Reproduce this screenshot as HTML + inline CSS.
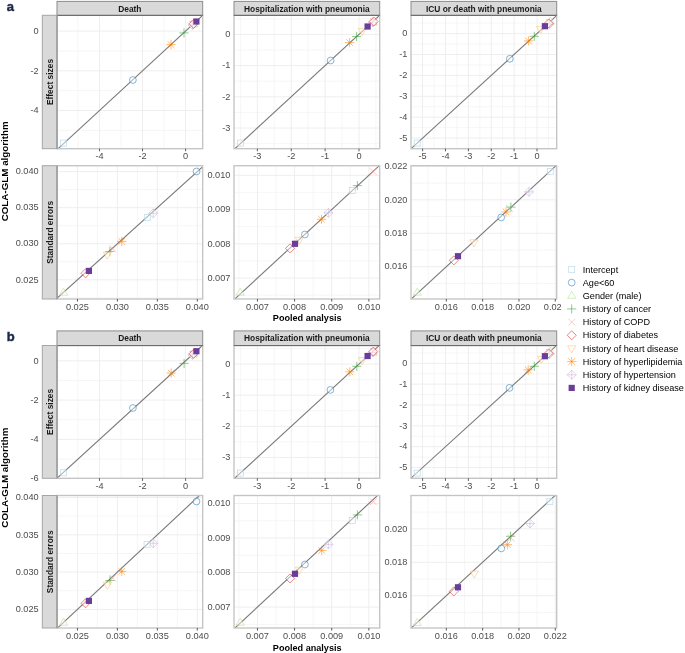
<!DOCTYPE html><html><head><meta charset="utf-8"><style>html,body{margin:0;padding:0;background:#fff}svg{display:block;will-change:transform}</style></head><body><svg width="685" height="653" viewBox="0 0 685 653">
<style>.t{font:9.2px "Liberation Sans",sans-serif;fill:#4d4d4d}.s{font:bold 8.4px "Liberation Sans",sans-serif;fill:#1a1a1a}.ti{font:bold 9.1px "Liberation Sans",sans-serif;fill:#000}.l{font:9.1px "Liberation Sans",sans-serif;fill:#000}</style>
<rect width="685" height="653" fill="#fff"/>
<clipPath id="cpa11"><rect x="57.0" y="15.3" width="145.70" height="133.40"/></clipPath>
<rect x="57.0" y="15.3" width="145.70" height="133.40" fill="#fff"/>
<path d="M77.95,15.3V148.7M121.01,15.3V148.7M164.07,15.3V148.7M57.0,130.35H202.70M57.0,90.65H202.70M57.0,50.95H202.70" stroke="#f4f4f4" stroke-width="0.8" fill="none"/>
<path d="M99.48,15.3V148.7M142.54,15.3V148.7M185.60,15.3V148.7M57.0,110.50H202.70M57.0,70.80H202.70M57.0,31.10H202.70" stroke="#eeeeee" stroke-width="1" fill="none"/>
<g clip-path="url(#cpa11)"><path d="M-1271.40,1374.41L1642.60,-1312.21" stroke="#787878" stroke-width="1.1"/>
<rect x="60.50" y="140.10" width="6.00" height="6.00" stroke="#A6CEE3" stroke-width="0.75" fill="#fff" fill-opacity="0.45" stroke-opacity="0.72"/>
<circle cx="132.90" cy="80.00" r="3.40" stroke="#1F78B4" stroke-width="0.75" fill="#fff" fill-opacity="0.45" stroke-opacity="0.72"/>
<path d="M166.40,44.60H175.60M171.00,40.00V49.20M167.70,41.30L174.30,47.90M167.70,47.90L174.30,41.30" stroke="#FF7F00" stroke-width="0.75" fill="#fff" fill-opacity="0.45" stroke-opacity="0.72"/>
<path d="M179.40,32.90H188.60M184.00,28.30V37.50" stroke="#33A02C" stroke-width="0.75" fill="#fff" fill-opacity="0.45" stroke-opacity="0.72"/>
<path d="M193.80,28.30L197.90,21.20L189.70,21.20Z" stroke="#FDBF6F" stroke-width="0.75" fill="#fff" fill-opacity="0.45" stroke-opacity="0.72"/>
<path d="M194.00,19.50L198.10,26.60L189.90,26.60Z" stroke="#B2DF8A" stroke-width="0.75" fill="#fff" fill-opacity="0.45" stroke-opacity="0.72"/>
<path d="M189.80,21.10L196.60,27.90M189.80,27.90L196.60,21.10" stroke="#FB9A99" stroke-width="0.75" fill="#fff" fill-opacity="0.45" stroke-opacity="0.72"/>
<path d="M192.50,20.50L197.00,25.00L192.50,29.50L188.00,25.00ZM188.00,25.00H197.00M192.50,20.50V29.50" stroke="#CAB2D6" stroke-width="0.75" fill="#fff" fill-opacity="0.45" stroke-opacity="0.72"/>
<path d="M193.50,19.30L198.00,23.80L193.50,28.30L189.00,23.80Z" stroke="#E31A1C" stroke-width="0.75" fill="#fff" fill-opacity="0.45" stroke-opacity="0.72"/>
<rect x="193.30" y="18.40" width="6.20" height="6.20" fill="#6A3D9A"/>
</g>
<rect x="57.0" y="15.3" width="145.70" height="133.40" fill="none" stroke="#c4c4c4" stroke-width="1.35"/>
<path d="M99.48,148.7v2.6" stroke="#333" stroke-width="0.8"/>
<text x="99.48" y="159.30" text-anchor="middle" class="t">-4</text>
<path d="M142.54,148.7v2.6" stroke="#333" stroke-width="0.8"/>
<text x="142.54" y="159.30" text-anchor="middle" class="t">-2</text>
<path d="M185.60,148.7v2.6" stroke="#333" stroke-width="0.8"/>
<text x="185.60" y="159.30" text-anchor="middle" class="t">0</text>
<text x="38.70" y="113.20" text-anchor="end" class="t">-4</text>
<text x="38.70" y="73.50" text-anchor="end" class="t">-2</text>
<text x="38.70" y="33.80" text-anchor="end" class="t">0</text>
<clipPath id="cpa12"><rect x="234.0" y="15.3" width="145.70" height="133.40"/></clipPath>
<rect x="234.0" y="15.3" width="145.70" height="133.40" fill="#fff"/>
<path d="M240.42,15.3V148.7M274.30,15.3V148.7M308.18,15.3V148.7M342.06,15.3V148.7M375.94,15.3V148.7M234.0,143.60H379.70M234.0,112.40H379.70M234.0,81.20H379.70M234.0,50.00H379.70M234.0,18.80H379.70" stroke="#f4f4f4" stroke-width="0.8" fill="none"/>
<path d="M257.36,15.3V148.7M291.24,15.3V148.7M325.12,15.3V148.7M359.00,15.3V148.7M234.0,128.00H379.70M234.0,96.80H379.70M234.0,65.60H379.70M234.0,34.40H379.70" stroke="#eeeeee" stroke-width="1" fill="none"/>
<g clip-path="url(#cpa12)"><path d="M-1098.00,1376.15L1816.00,-1307.35" stroke="#787878" stroke-width="1.1"/>
<rect x="237.40" y="140.10" width="6.00" height="6.00" stroke="#A6CEE3" stroke-width="0.75" fill="#fff" fill-opacity="0.45" stroke-opacity="0.72"/>
<circle cx="330.60" cy="60.50" r="3.40" stroke="#1F78B4" stroke-width="0.75" fill="#fff" fill-opacity="0.45" stroke-opacity="0.72"/>
<path d="M345.00,42.60H354.20M349.60,38.00V47.20M346.30,39.30L352.90,45.90M346.30,45.90L352.90,39.30" stroke="#FF7F00" stroke-width="0.75" fill="#fff" fill-opacity="0.45" stroke-opacity="0.72"/>
<path d="M352.00,36.50H361.20M356.60,31.90V41.10" stroke="#33A02C" stroke-width="0.75" fill="#fff" fill-opacity="0.45" stroke-opacity="0.72"/>
<path d="M362.20,35.50L366.30,28.40L358.10,28.40Z" stroke="#FDBF6F" stroke-width="0.75" fill="#fff" fill-opacity="0.45" stroke-opacity="0.72"/>
<path d="M373.00,18.00L377.10,25.10L368.90,25.10Z" stroke="#B2DF8A" stroke-width="0.75" fill="#fff" fill-opacity="0.45" stroke-opacity="0.72"/>
<path d="M370.10,18.10L376.90,24.90M370.10,24.90L376.90,18.10" stroke="#FB9A99" stroke-width="0.75" fill="#fff" fill-opacity="0.45" stroke-opacity="0.72"/>
<path d="M372.80,18.00L377.30,22.50L372.80,27.00L368.30,22.50ZM368.30,22.50H377.30M372.80,18.00V27.00" stroke="#CAB2D6" stroke-width="0.75" fill="#fff" fill-opacity="0.45" stroke-opacity="0.72"/>
<path d="M373.70,17.00L378.20,21.50L373.70,26.00L369.20,21.50Z" stroke="#E31A1C" stroke-width="0.75" fill="#fff" fill-opacity="0.45" stroke-opacity="0.72"/>
<rect x="364.50" y="23.40" width="6.20" height="6.20" fill="#6A3D9A"/>
</g>
<rect x="234.0" y="15.3" width="145.70" height="133.40" fill="none" stroke="#c4c4c4" stroke-width="1.35"/>
<path d="M257.36,148.7v2.6" stroke="#333" stroke-width="0.8"/>
<text x="257.36" y="159.30" text-anchor="middle" class="t">-3</text>
<path d="M291.24,148.7v2.6" stroke="#333" stroke-width="0.8"/>
<text x="291.24" y="159.30" text-anchor="middle" class="t">-2</text>
<path d="M325.12,148.7v2.6" stroke="#333" stroke-width="0.8"/>
<text x="325.12" y="159.30" text-anchor="middle" class="t">-1</text>
<path d="M359.00,148.7v2.6" stroke="#333" stroke-width="0.8"/>
<text x="359.00" y="159.30" text-anchor="middle" class="t">0</text>
<text x="230.40" y="130.70" text-anchor="end" class="t">-3</text>
<text x="230.40" y="99.50" text-anchor="end" class="t">-2</text>
<text x="230.40" y="68.30" text-anchor="end" class="t">-1</text>
<text x="230.40" y="37.10" text-anchor="end" class="t">0</text>
<clipPath id="cpa13"><rect x="411.0" y="15.3" width="145.70" height="133.40"/></clipPath>
<rect x="411.0" y="15.3" width="145.70" height="133.40" fill="#fff"/>
<path d="M411.16,15.3V148.7M434.04,15.3V148.7M456.92,15.3V148.7M479.80,15.3V148.7M502.68,15.3V148.7M525.56,15.3V148.7M548.44,15.3V148.7M411.0,148.55H556.70M411.0,127.65H556.70M411.0,106.75H556.70M411.0,85.85H556.70M411.0,64.95H556.70M411.0,44.05H556.70M411.0,23.15H556.70" stroke="#f4f4f4" stroke-width="0.8" fill="none"/>
<path d="M422.60,15.3V148.7M445.48,15.3V148.7M468.36,15.3V148.7M491.24,15.3V148.7M514.12,15.3V148.7M537.00,15.3V148.7M411.0,138.10H556.70M411.0,117.20H556.70M411.0,96.30H556.70M411.0,75.40H556.70M411.0,54.50H556.70M411.0,33.60H556.70" stroke="#eeeeee" stroke-width="1" fill="none"/>
<g clip-path="url(#cpa13)"><path d="M-920.00,1364.51L1994.00,-1297.31" stroke="#787878" stroke-width="1.1"/>
<rect x="414.20" y="140.10" width="6.00" height="6.00" stroke="#A6CEE3" stroke-width="0.75" fill="#fff" fill-opacity="0.45" stroke-opacity="0.72"/>
<circle cx="509.80" cy="58.80" r="3.40" stroke="#1F78B4" stroke-width="0.75" fill="#fff" fill-opacity="0.45" stroke-opacity="0.72"/>
<path d="M524.00,40.90H533.20M528.60,36.30V45.50M525.30,37.60L531.90,44.20M525.30,44.20L531.90,37.60" stroke="#FF7F00" stroke-width="0.75" fill="#fff" fill-opacity="0.45" stroke-opacity="0.72"/>
<path d="M529.70,36.30H538.90M534.30,31.70V40.90" stroke="#33A02C" stroke-width="0.75" fill="#fff" fill-opacity="0.45" stroke-opacity="0.72"/>
<path d="M540.70,33.50L544.80,26.40L536.60,26.40Z" stroke="#FDBF6F" stroke-width="0.75" fill="#fff" fill-opacity="0.45" stroke-opacity="0.72"/>
<path d="M550.30,17.00L554.40,24.10L546.20,24.10Z" stroke="#B2DF8A" stroke-width="0.75" fill="#fff" fill-opacity="0.45" stroke-opacity="0.72"/>
<path d="M546.10,19.10L552.90,25.90M546.10,25.90L552.90,19.10" stroke="#FB9A99" stroke-width="0.75" fill="#fff" fill-opacity="0.45" stroke-opacity="0.72"/>
<path d="M549.30,19.60L553.80,24.10L549.30,28.60L544.80,24.10ZM544.80,24.10H553.80M549.30,19.60V28.60" stroke="#CAB2D6" stroke-width="0.75" fill="#fff" fill-opacity="0.45" stroke-opacity="0.72"/>
<path d="M548.60,18.90L553.10,23.40L548.60,27.90L544.10,23.40Z" stroke="#E31A1C" stroke-width="0.75" fill="#fff" fill-opacity="0.45" stroke-opacity="0.72"/>
<rect x="541.80" y="23.10" width="6.20" height="6.20" fill="#6A3D9A"/>
</g>
<rect x="411.0" y="15.3" width="145.70" height="133.40" fill="none" stroke="#c4c4c4" stroke-width="1.35"/>
<path d="M422.60,148.7v2.6" stroke="#333" stroke-width="0.8"/>
<text x="422.60" y="159.30" text-anchor="middle" class="t">-5</text>
<path d="M445.48,148.7v2.6" stroke="#333" stroke-width="0.8"/>
<text x="445.48" y="159.30" text-anchor="middle" class="t">-4</text>
<path d="M468.36,148.7v2.6" stroke="#333" stroke-width="0.8"/>
<text x="468.36" y="159.30" text-anchor="middle" class="t">-3</text>
<path d="M491.24,148.7v2.6" stroke="#333" stroke-width="0.8"/>
<text x="491.24" y="159.30" text-anchor="middle" class="t">-2</text>
<path d="M514.12,148.7v2.6" stroke="#333" stroke-width="0.8"/>
<text x="514.12" y="159.30" text-anchor="middle" class="t">-1</text>
<path d="M537.00,148.7v2.6" stroke="#333" stroke-width="0.8"/>
<text x="537.00" y="159.30" text-anchor="middle" class="t">0</text>
<text x="407.40" y="140.80" text-anchor="end" class="t">-5</text>
<text x="407.40" y="119.90" text-anchor="end" class="t">-4</text>
<text x="407.40" y="99.00" text-anchor="end" class="t">-3</text>
<text x="407.40" y="78.10" text-anchor="end" class="t">-2</text>
<text x="407.40" y="57.20" text-anchor="end" class="t">-1</text>
<text x="407.40" y="36.30" text-anchor="end" class="t">0</text>
<clipPath id="cpa21"><rect x="57.0" y="165.7" width="145.70" height="133.30"/></clipPath>
<rect x="57.0" y="165.7" width="145.70" height="133.30" fill="#fff"/>
<path d="M57.46,165.7V299.0M97.41,165.7V299.0M137.37,165.7V299.0M177.31,165.7V299.0M57.0,297.83H202.70M57.0,261.77H202.70M57.0,225.72H202.70M57.0,189.68H202.70" stroke="#f4f4f4" stroke-width="0.8" fill="none"/>
<path d="M77.44,165.7V299.0M117.39,165.7V299.0M157.34,165.7V299.0M197.29,165.7V299.0M57.0,279.80H202.70M57.0,243.75H202.70M57.0,207.70H202.70M57.0,171.65H202.70" stroke="#eeeeee" stroke-width="1" fill="none"/>
<g clip-path="url(#cpa21)"><path d="M-1379.56,1594.56L1534.44,-1034.96" stroke="#787878" stroke-width="1.1"/>
<circle cx="196.50" cy="171.50" r="3.40" stroke="#1F78B4" stroke-width="0.75" fill="#fff" fill-opacity="0.45" stroke-opacity="0.72"/>
<path d="M153.20,208.80L157.70,213.30L153.20,217.80L148.70,213.30ZM148.70,213.30H157.70M153.20,208.80V217.80" stroke="#CAB2D6" stroke-width="0.75" fill="#fff" fill-opacity="0.45" stroke-opacity="0.72"/>
<rect x="144.30" y="214.40" width="6.00" height="6.00" stroke="#A6CEE3" stroke-width="0.75" fill="#fff" fill-opacity="0.45" stroke-opacity="0.72"/>
<path d="M117.10,241.40H126.30M121.70,236.80V246.00M118.40,238.10L125.00,244.70M118.40,244.70L125.00,238.10" stroke="#FF7F00" stroke-width="0.75" fill="#fff" fill-opacity="0.45" stroke-opacity="0.72"/>
<path d="M109.50,245.30L116.30,252.10M109.50,252.10L116.30,245.30" stroke="#FB9A99" stroke-width="0.75" fill="#fff" fill-opacity="0.45" stroke-opacity="0.72"/>
<path d="M105.20,251.50H114.40M109.80,246.90V256.10" stroke="#33A02C" stroke-width="0.75" fill="#fff" fill-opacity="0.45" stroke-opacity="0.72"/>
<path d="M107.40,259.30L111.50,252.20L103.30,252.20Z" stroke="#FDBF6F" stroke-width="0.75" fill="#fff" fill-opacity="0.45" stroke-opacity="0.72"/>
<path d="M85.50,268.80L90.00,273.30L85.50,277.80L81.00,273.30Z" stroke="#E31A1C" stroke-width="0.75" fill="#fff" fill-opacity="0.45" stroke-opacity="0.72"/>
<rect x="85.80" y="267.80" width="6.20" height="6.20" fill="#6A3D9A"/>
<path d="M63.60,288.10L67.70,295.20L59.50,295.20Z" stroke="#B2DF8A" stroke-width="0.75" fill="#fff" fill-opacity="0.45" stroke-opacity="0.72"/>
</g>
<rect x="57.0" y="165.7" width="145.70" height="133.30" fill="none" stroke="#c4c4c4" stroke-width="1.35"/>
<path d="M77.44,299.0v2.6" stroke="#333" stroke-width="0.8"/>
<text x="77.44" y="309.60" text-anchor="middle" class="t">0.025</text>
<path d="M117.39,299.0v2.6" stroke="#333" stroke-width="0.8"/>
<text x="117.39" y="309.60" text-anchor="middle" class="t">0.030</text>
<path d="M157.34,299.0v2.6" stroke="#333" stroke-width="0.8"/>
<text x="157.34" y="309.60" text-anchor="middle" class="t">0.035</text>
<path d="M197.29,299.0v2.6" stroke="#333" stroke-width="0.8"/>
<text x="197.29" y="309.60" text-anchor="middle" class="t">0.040</text>
<text x="38.70" y="282.50" text-anchor="end" class="t">0.025</text>
<text x="38.70" y="246.45" text-anchor="end" class="t">0.030</text>
<text x="38.70" y="210.40" text-anchor="end" class="t">0.035</text>
<text x="38.70" y="174.35" text-anchor="end" class="t">0.040</text>
<clipPath id="cpa22"><rect x="234.0" y="165.7" width="145.70" height="133.30"/></clipPath>
<rect x="234.0" y="165.7" width="145.70" height="133.30" fill="#fff"/>
<path d="M238.86,165.7V299.0M276.01,165.7V299.0M313.17,165.7V299.0M350.31,165.7V299.0M234.0,295.21H379.70M234.0,260.95H379.70M234.0,226.69H379.70M234.0,192.43H379.70" stroke="#f4f4f4" stroke-width="0.8" fill="none"/>
<path d="M257.44,165.7V299.0M294.59,165.7V299.0M331.74,165.7V299.0M368.89,165.7V299.0M234.0,278.08H379.70M234.0,243.82H379.70M234.0,209.56H379.70M234.0,175.30H379.70" stroke="#eeeeee" stroke-width="1" fill="none"/>
<g clip-path="url(#cpa22)"><path d="M-1199.56,1621.74L1714.44,-1065.58" stroke="#787878" stroke-width="1.1"/>
<path d="M369.90,168.30L376.70,175.10M369.90,175.10L376.70,168.30" stroke="#FB9A99" stroke-width="0.75" fill="#fff" fill-opacity="0.45" stroke-opacity="0.72"/>
<path d="M352.80,185.60H362.00M357.40,181.00V190.20" stroke="#33A02C" stroke-width="0.75" fill="#fff" fill-opacity="0.45" stroke-opacity="0.72"/>
<rect x="349.30" y="187.40" width="6.00" height="6.00" stroke="#A6CEE3" stroke-width="0.75" fill="#fff" fill-opacity="0.45" stroke-opacity="0.72"/>
<path d="M328.40,208.40L332.90,212.90L328.40,217.40L323.90,212.90ZM323.90,212.90H332.90M328.40,208.40V217.40" stroke="#CAB2D6" stroke-width="0.75" fill="#fff" fill-opacity="0.45" stroke-opacity="0.72"/>
<path d="M316.90,219.30H326.10M321.50,214.70V223.90M318.20,216.00L324.80,222.60M318.20,222.60L324.80,216.00" stroke="#FF7F00" stroke-width="0.75" fill="#fff" fill-opacity="0.45" stroke-opacity="0.72"/>
<circle cx="304.90" cy="234.50" r="3.40" stroke="#1F78B4" stroke-width="0.75" fill="#fff" fill-opacity="0.45" stroke-opacity="0.72"/>
<path d="M299.30,244.30L303.40,237.20L295.20,237.20Z" stroke="#FDBF6F" stroke-width="0.75" fill="#fff" fill-opacity="0.45" stroke-opacity="0.72"/>
<path d="M290.00,243.90L294.50,248.40L290.00,252.90L285.50,248.40Z" stroke="#E31A1C" stroke-width="0.75" fill="#fff" fill-opacity="0.45" stroke-opacity="0.72"/>
<rect x="291.90" y="240.70" width="6.20" height="6.20" fill="#6A3D9A"/>
<path d="M240.20,288.10L244.30,295.20L236.10,295.20Z" stroke="#B2DF8A" stroke-width="0.75" fill="#fff" fill-opacity="0.45" stroke-opacity="0.72"/>
</g>
<rect x="234.0" y="165.7" width="145.70" height="133.30" fill="none" stroke="#c4c4c4" stroke-width="1.35"/>
<path d="M257.44,299.0v2.6" stroke="#333" stroke-width="0.8"/>
<text x="257.44" y="309.60" text-anchor="middle" class="t">0.007</text>
<path d="M294.59,299.0v2.6" stroke="#333" stroke-width="0.8"/>
<text x="294.59" y="309.60" text-anchor="middle" class="t">0.008</text>
<path d="M331.74,299.0v2.6" stroke="#333" stroke-width="0.8"/>
<text x="331.74" y="309.60" text-anchor="middle" class="t">0.009</text>
<path d="M368.89,299.0v2.6" stroke="#333" stroke-width="0.8"/>
<text x="368.89" y="309.60" text-anchor="middle" class="t">0.010</text>
<text x="230.40" y="280.78" text-anchor="end" class="t">0.007</text>
<text x="230.40" y="246.52" text-anchor="end" class="t">0.008</text>
<text x="230.40" y="212.26" text-anchor="end" class="t">0.009</text>
<text x="230.40" y="178.00" text-anchor="end" class="t">0.010</text>
<clipPath id="cpa23"><rect x="411.0" y="165.7" width="145.70" height="133.30"/></clipPath>
<rect x="411.0" y="165.7" width="145.70" height="133.30" fill="#fff"/>
<path d="M428.13,165.7V299.0M464.47,165.7V299.0M500.80,165.7V299.0M537.13,165.7V299.0M411.0,283.44H556.70M411.0,250.00H556.70M411.0,216.56H556.70M411.0,183.12H556.70" stroke="#f4f4f4" stroke-width="0.8" fill="none"/>
<path d="M446.30,165.7V299.0M482.63,165.7V299.0M518.97,165.7V299.0M555.30,165.7V299.0M411.0,266.72H556.70M411.0,233.28H556.70M411.0,199.84H556.70M411.0,166.40H556.70" stroke="#eeeeee" stroke-width="1" fill="none"/>
<g clip-path="url(#cpa23)"><path d="M-1010.70,1607.67L1903.30,-1074.23" stroke="#787878" stroke-width="1.1"/>
<rect x="547.30" y="168.60" width="6.00" height="6.00" stroke="#A6CEE3" stroke-width="0.75" fill="#fff" fill-opacity="0.45" stroke-opacity="0.72"/>
<path d="M529.00,187.40L533.50,191.90L529.00,196.40L524.50,191.90ZM524.50,191.90H533.50M529.00,187.40V196.40" stroke="#CAB2D6" stroke-width="0.75" fill="#fff" fill-opacity="0.45" stroke-opacity="0.72"/>
<path d="M506.30,207.10H515.50M510.90,202.50V211.70" stroke="#33A02C" stroke-width="0.75" fill="#fff" fill-opacity="0.45" stroke-opacity="0.72"/>
<path d="M506.10,205.10L512.90,211.90M506.10,211.90L512.90,205.10" stroke="#FB9A99" stroke-width="0.75" fill="#fff" fill-opacity="0.45" stroke-opacity="0.72"/>
<path d="M501.40,211.90H510.60M506.00,207.30V216.50M502.70,208.60L509.30,215.20M502.70,215.20L509.30,208.60" stroke="#FF7F00" stroke-width="0.75" fill="#fff" fill-opacity="0.45" stroke-opacity="0.72"/>
<circle cx="501.20" cy="217.40" r="3.40" stroke="#1F78B4" stroke-width="0.75" fill="#fff" fill-opacity="0.45" stroke-opacity="0.72"/>
<path d="M474.00,246.90L478.10,239.80L469.90,239.80Z" stroke="#FDBF6F" stroke-width="0.75" fill="#fff" fill-opacity="0.45" stroke-opacity="0.72"/>
<path d="M453.80,255.90L458.30,260.40L453.80,264.90L449.30,260.40Z" stroke="#E31A1C" stroke-width="0.75" fill="#fff" fill-opacity="0.45" stroke-opacity="0.72"/>
<rect x="454.90" y="253.10" width="6.20" height="6.20" fill="#6A3D9A"/>
<path d="M417.20,288.10L421.30,295.20L413.10,295.20Z" stroke="#B2DF8A" stroke-width="0.75" fill="#fff" fill-opacity="0.45" stroke-opacity="0.72"/>
</g>
<rect x="411.0" y="165.7" width="145.70" height="133.30" fill="none" stroke="#c4c4c4" stroke-width="1.35"/>
<path d="M446.30,299.0v2.6" stroke="#333" stroke-width="0.8"/>
<text x="446.30" y="309.60" text-anchor="middle" class="t">0.016</text>
<path d="M482.63,299.0v2.6" stroke="#333" stroke-width="0.8"/>
<text x="482.63" y="309.60" text-anchor="middle" class="t">0.018</text>
<path d="M518.97,299.0v2.6" stroke="#333" stroke-width="0.8"/>
<text x="518.97" y="309.60" text-anchor="middle" class="t">0.020</text>
<path d="M555.30,299.0v2.6" stroke="#333" stroke-width="0.8"/>
<clipPath id="lclip"><rect x="530" y="290" width="31.6" height="30"/></clipPath>
<text x="555.30" y="309.60" text-anchor="middle" class="t" clip-path="url(#lclip)">0.022</text>
<text x="407.40" y="269.42" text-anchor="end" class="t">0.016</text>
<text x="407.40" y="235.98" text-anchor="end" class="t">0.018</text>
<text x="407.40" y="202.54" text-anchor="end" class="t">0.020</text>
<text x="407.40" y="169.10" text-anchor="end" class="t">0.022</text>
<rect x="57.0" y="1.4" width="145.7" height="13.90" fill="#d9d9d9" stroke="#8c8c8c" stroke-width="1"/>
<path d="M57.0,15.40H202.7" stroke="#6a6a6a" stroke-width="1"/>
<text x="129.85" y="11.80" text-anchor="middle" class="s">Death</text>
<rect x="234.0" y="1.4" width="145.7" height="13.90" fill="#d9d9d9" stroke="#8c8c8c" stroke-width="1"/>
<path d="M234.0,15.40H379.7" stroke="#6a6a6a" stroke-width="1"/>
<text x="306.85" y="11.80" text-anchor="middle" class="s">Hospitalization with pneumonia</text>
<rect x="411.0" y="1.4" width="145.7" height="13.90" fill="#d9d9d9" stroke="#8c8c8c" stroke-width="1"/>
<path d="M411.0,15.40H556.7" stroke="#6a6a6a" stroke-width="1"/>
<text x="483.85" y="11.80" text-anchor="middle" class="s">ICU or death with pneumonia</text>
<rect x="42.3" y="15.3" width="14.70" height="133.40" fill="#d9d9d9" stroke="#a6a6a6" stroke-width="1"/>
<path d="M57,15.3V148.7" stroke="#999" stroke-width="1.3"/>
<text transform="translate(53.2,82.00) rotate(-90)" text-anchor="middle" class="s">Effect sizes</text>
<rect x="42.3" y="165.7" width="14.70" height="133.30" fill="#d9d9d9" stroke="#a6a6a6" stroke-width="1"/>
<path d="M57,165.7V299.0" stroke="#999" stroke-width="1.3"/>
<text transform="translate(53.2,232.35) rotate(-90)" text-anchor="middle" class="s">Standard errors</text>
<clipPath id="cpb11"><rect x="57.0" y="345.5" width="145.70" height="132.80"/></clipPath>
<rect x="57.0" y="345.5" width="145.70" height="132.80" fill="#fff"/>
<path d="M77.95,345.5V478.3M121.01,345.5V478.3M164.07,345.5V478.3M57.0,459.05H202.70M57.0,419.75H202.70M57.0,380.45H202.70" stroke="#f4f4f4" stroke-width="0.8" fill="none"/>
<path d="M99.48,345.5V478.3M142.54,345.5V478.3M185.60,345.5V478.3M57.0,439.40H202.70M57.0,400.10H202.70M57.0,360.80H202.70" stroke="#eeeeee" stroke-width="1" fill="none"/>
<g clip-path="url(#cpb11)"><path d="M-1271.40,1690.57L1642.60,-968.97" stroke="#787878" stroke-width="1.1"/>
<rect x="60.50" y="469.80" width="6.00" height="6.00" stroke="#A6CEE3" stroke-width="0.75" fill="#fff" fill-opacity="0.45" stroke-opacity="0.72"/>
<circle cx="132.90" cy="408.00" r="3.40" stroke="#1F78B4" stroke-width="0.75" fill="#fff" fill-opacity="0.45" stroke-opacity="0.72"/>
<path d="M166.60,373.10H175.80M171.20,368.50V377.70M167.90,369.80L174.50,376.40M167.90,376.40L174.50,369.80" stroke="#FF7F00" stroke-width="0.75" fill="#fff" fill-opacity="0.45" stroke-opacity="0.72"/>
<path d="M179.50,363.40H188.70M184.10,358.80V368.00" stroke="#33A02C" stroke-width="0.75" fill="#fff" fill-opacity="0.45" stroke-opacity="0.72"/>
<path d="M193.80,358.30L197.90,351.20L189.70,351.20Z" stroke="#FDBF6F" stroke-width="0.75" fill="#fff" fill-opacity="0.45" stroke-opacity="0.72"/>
<path d="M194.00,349.50L198.10,356.60L189.90,356.60Z" stroke="#B2DF8A" stroke-width="0.75" fill="#fff" fill-opacity="0.45" stroke-opacity="0.72"/>
<path d="M189.80,351.10L196.60,357.90M189.80,357.90L196.60,351.10" stroke="#FB9A99" stroke-width="0.75" fill="#fff" fill-opacity="0.45" stroke-opacity="0.72"/>
<path d="M192.50,350.50L197.00,355.00L192.50,359.50L188.00,355.00ZM188.00,355.00H197.00M192.50,350.50V359.50" stroke="#CAB2D6" stroke-width="0.75" fill="#fff" fill-opacity="0.45" stroke-opacity="0.72"/>
<path d="M193.50,349.30L198.00,353.80L193.50,358.30L189.00,353.80Z" stroke="#E31A1C" stroke-width="0.75" fill="#fff" fill-opacity="0.45" stroke-opacity="0.72"/>
<rect x="193.30" y="348.10" width="6.20" height="6.20" fill="#6A3D9A"/>
</g>
<rect x="57.0" y="345.5" width="145.70" height="132.80" fill="none" stroke="#c4c4c4" stroke-width="1.35"/>
<path d="M99.48,478.3v2.6" stroke="#333" stroke-width="0.8"/>
<text x="99.48" y="488.90" text-anchor="middle" class="t">-4</text>
<path d="M142.54,478.3v2.6" stroke="#333" stroke-width="0.8"/>
<text x="142.54" y="488.90" text-anchor="middle" class="t">-2</text>
<path d="M185.60,478.3v2.6" stroke="#333" stroke-width="0.8"/>
<text x="185.60" y="488.90" text-anchor="middle" class="t">0</text>
<text x="38.70" y="481.40" text-anchor="end" class="t">-6</text>
<text x="38.70" y="442.10" text-anchor="end" class="t">-4</text>
<text x="38.70" y="402.80" text-anchor="end" class="t">-2</text>
<text x="38.70" y="363.50" text-anchor="end" class="t">0</text>
<clipPath id="cpb12"><rect x="234.0" y="345.5" width="145.70" height="132.80"/></clipPath>
<rect x="234.0" y="345.5" width="145.70" height="132.80" fill="#fff"/>
<path d="M240.42,345.5V478.3M274.30,345.5V478.3M308.18,345.5V478.3M342.06,345.5V478.3M375.94,345.5V478.3M234.0,472.95H379.70M234.0,441.85H379.70M234.0,410.75H379.70M234.0,379.65H379.70M234.0,348.55H379.70" stroke="#f4f4f4" stroke-width="0.8" fill="none"/>
<path d="M257.36,345.5V478.3M291.24,345.5V478.3M325.12,345.5V478.3M359.00,345.5V478.3M234.0,457.40H379.70M234.0,426.30H379.70M234.0,395.20H379.70M234.0,364.10H379.70" stroke="#eeeeee" stroke-width="1" fill="none"/>
<g clip-path="url(#cpb12)"><path d="M-1098.00,1701.55L1816.00,-973.35" stroke="#787878" stroke-width="1.1"/>
<rect x="237.40" y="470.10" width="6.00" height="6.00" stroke="#A6CEE3" stroke-width="0.75" fill="#fff" fill-opacity="0.45" stroke-opacity="0.72"/>
<circle cx="330.40" cy="389.90" r="3.40" stroke="#1F78B4" stroke-width="0.75" fill="#fff" fill-opacity="0.45" stroke-opacity="0.72"/>
<path d="M345.20,371.80H354.40M349.80,367.20V376.40M346.50,368.50L353.10,375.10M346.50,375.10L353.10,368.50" stroke="#FF7F00" stroke-width="0.75" fill="#fff" fill-opacity="0.45" stroke-opacity="0.72"/>
<path d="M352.20,366.30H361.40M356.80,361.70V370.90" stroke="#33A02C" stroke-width="0.75" fill="#fff" fill-opacity="0.45" stroke-opacity="0.72"/>
<path d="M362.30,364.60L366.40,357.50L358.20,357.50Z" stroke="#FDBF6F" stroke-width="0.75" fill="#fff" fill-opacity="0.45" stroke-opacity="0.72"/>
<path d="M373.00,348.00L377.10,355.10L368.90,355.10Z" stroke="#B2DF8A" stroke-width="0.75" fill="#fff" fill-opacity="0.45" stroke-opacity="0.72"/>
<path d="M370.10,348.10L376.90,354.90M370.10,354.90L376.90,348.10" stroke="#FB9A99" stroke-width="0.75" fill="#fff" fill-opacity="0.45" stroke-opacity="0.72"/>
<path d="M372.80,348.00L377.30,352.50L372.80,357.00L368.30,352.50ZM368.30,352.50H377.30M372.80,348.00V357.00" stroke="#CAB2D6" stroke-width="0.75" fill="#fff" fill-opacity="0.45" stroke-opacity="0.72"/>
<path d="M373.30,347.00L377.80,351.50L373.30,356.00L368.80,351.50Z" stroke="#E31A1C" stroke-width="0.75" fill="#fff" fill-opacity="0.45" stroke-opacity="0.72"/>
<rect x="364.50" y="352.90" width="6.20" height="6.20" fill="#6A3D9A"/>
</g>
<rect x="234.0" y="345.5" width="145.70" height="132.80" fill="none" stroke="#c4c4c4" stroke-width="1.35"/>
<path d="M257.36,478.3v2.6" stroke="#333" stroke-width="0.8"/>
<text x="257.36" y="488.90" text-anchor="middle" class="t">-3</text>
<path d="M291.24,478.3v2.6" stroke="#333" stroke-width="0.8"/>
<text x="291.24" y="488.90" text-anchor="middle" class="t">-2</text>
<path d="M325.12,478.3v2.6" stroke="#333" stroke-width="0.8"/>
<text x="325.12" y="488.90" text-anchor="middle" class="t">-1</text>
<path d="M359.00,478.3v2.6" stroke="#333" stroke-width="0.8"/>
<text x="359.00" y="488.90" text-anchor="middle" class="t">0</text>
<text x="230.40" y="460.10" text-anchor="end" class="t">-3</text>
<text x="230.40" y="429.00" text-anchor="end" class="t">-2</text>
<text x="230.40" y="397.90" text-anchor="end" class="t">-1</text>
<text x="230.40" y="366.80" text-anchor="end" class="t">0</text>
<clipPath id="cpb13"><rect x="411.0" y="345.5" width="145.70" height="132.80"/></clipPath>
<rect x="411.0" y="345.5" width="145.70" height="132.80" fill="#fff"/>
<path d="M411.16,345.5V478.3M434.04,345.5V478.3M456.92,345.5V478.3M479.80,345.5V478.3M502.68,345.5V478.3M525.56,345.5V478.3M548.44,345.5V478.3M411.0,477.98H556.70M411.0,457.12H556.70M411.0,436.28H556.70M411.0,415.43H556.70M411.0,394.57H556.70M411.0,373.73H556.70M411.0,352.88H556.70" stroke="#f4f4f4" stroke-width="0.8" fill="none"/>
<path d="M422.60,345.5V478.3M445.48,345.5V478.3M468.36,345.5V478.3M491.24,345.5V478.3M514.12,345.5V478.3M537.00,345.5V478.3M411.0,467.55H556.70M411.0,446.70H556.70M411.0,425.85H556.70M411.0,405.00H556.70M411.0,384.15H556.70M411.0,363.30H556.70" stroke="#eeeeee" stroke-width="1" fill="none"/>
<g clip-path="url(#cpb13)"><path d="M-920.00,1691.03L1994.00,-964.43" stroke="#787878" stroke-width="1.1"/>
<rect x="414.20" y="470.10" width="6.00" height="6.00" stroke="#A6CEE3" stroke-width="0.75" fill="#fff" fill-opacity="0.45" stroke-opacity="0.72"/>
<circle cx="509.50" cy="387.90" r="3.40" stroke="#1F78B4" stroke-width="0.75" fill="#fff" fill-opacity="0.45" stroke-opacity="0.72"/>
<path d="M523.60,369.90H532.80M528.20,365.30V374.50M524.90,366.60L531.50,373.20M524.90,373.20L531.50,366.60" stroke="#FF7F00" stroke-width="0.75" fill="#fff" fill-opacity="0.45" stroke-opacity="0.72"/>
<path d="M529.70,366.30H538.90M534.30,361.70V370.90" stroke="#33A02C" stroke-width="0.75" fill="#fff" fill-opacity="0.45" stroke-opacity="0.72"/>
<path d="M541.50,363.50L545.60,356.40L537.40,356.40Z" stroke="#FDBF6F" stroke-width="0.75" fill="#fff" fill-opacity="0.45" stroke-opacity="0.72"/>
<path d="M550.30,347.00L554.40,354.10L546.20,354.10Z" stroke="#B2DF8A" stroke-width="0.75" fill="#fff" fill-opacity="0.45" stroke-opacity="0.72"/>
<path d="M546.10,349.10L552.90,355.90M546.10,355.90L552.90,349.10" stroke="#FB9A99" stroke-width="0.75" fill="#fff" fill-opacity="0.45" stroke-opacity="0.72"/>
<path d="M549.30,349.60L553.80,354.10L549.30,358.60L544.80,354.10ZM544.80,354.10H553.80M549.30,349.60V358.60" stroke="#CAB2D6" stroke-width="0.75" fill="#fff" fill-opacity="0.45" stroke-opacity="0.72"/>
<path d="M548.60,348.90L553.10,353.40L548.60,357.90L544.10,353.40Z" stroke="#E31A1C" stroke-width="0.75" fill="#fff" fill-opacity="0.45" stroke-opacity="0.72"/>
<rect x="541.80" y="353.10" width="6.20" height="6.20" fill="#6A3D9A"/>
</g>
<rect x="411.0" y="345.5" width="145.70" height="132.80" fill="none" stroke="#c4c4c4" stroke-width="1.35"/>
<path d="M422.60,478.3v2.6" stroke="#333" stroke-width="0.8"/>
<text x="422.60" y="488.90" text-anchor="middle" class="t">-5</text>
<path d="M445.48,478.3v2.6" stroke="#333" stroke-width="0.8"/>
<text x="445.48" y="488.90" text-anchor="middle" class="t">-4</text>
<path d="M468.36,478.3v2.6" stroke="#333" stroke-width="0.8"/>
<text x="468.36" y="488.90" text-anchor="middle" class="t">-3</text>
<path d="M491.24,478.3v2.6" stroke="#333" stroke-width="0.8"/>
<text x="491.24" y="488.90" text-anchor="middle" class="t">-2</text>
<path d="M514.12,478.3v2.6" stroke="#333" stroke-width="0.8"/>
<text x="514.12" y="488.90" text-anchor="middle" class="t">-1</text>
<path d="M537.00,478.3v2.6" stroke="#333" stroke-width="0.8"/>
<text x="537.00" y="488.90" text-anchor="middle" class="t">0</text>
<text x="407.40" y="470.25" text-anchor="end" class="t">-5</text>
<text x="407.40" y="449.40" text-anchor="end" class="t">-4</text>
<text x="407.40" y="428.55" text-anchor="end" class="t">-3</text>
<text x="407.40" y="407.70" text-anchor="end" class="t">-2</text>
<text x="407.40" y="386.85" text-anchor="end" class="t">-1</text>
<text x="407.40" y="366.00" text-anchor="end" class="t">0</text>
<clipPath id="cpb21"><rect x="57.0" y="495.5" width="145.70" height="132.50"/></clipPath>
<rect x="57.0" y="495.5" width="145.70" height="132.50" fill="#fff"/>
<path d="M57.46,495.5V628.0M97.41,495.5V628.0M137.37,495.5V628.0M177.31,495.5V628.0M57.0,590.75H202.70M57.0,553.45H202.70M57.0,516.15H202.70" stroke="#f4f4f4" stroke-width="0.8" fill="none"/>
<path d="M77.44,495.5V628.0M117.39,495.5V628.0M157.34,495.5V628.0M197.29,495.5V628.0M57.0,609.40H202.70M57.0,572.10H202.70M57.0,534.80H202.70M57.0,497.50H202.70" stroke="#eeeeee" stroke-width="1" fill="none"/>
<g clip-path="url(#cpb21)"><path d="M-1379.56,1969.75L1534.44,-750.95" stroke="#787878" stroke-width="1.1"/>
<circle cx="196.50" cy="501.50" r="3.40" stroke="#1F78B4" stroke-width="0.75" fill="#fff" fill-opacity="0.45" stroke-opacity="0.72"/>
<path d="M153.20,538.80L157.70,543.30L153.20,547.80L148.70,543.30ZM148.70,543.30H157.70M153.20,538.80V547.80" stroke="#CAB2D6" stroke-width="0.75" fill="#fff" fill-opacity="0.45" stroke-opacity="0.72"/>
<rect x="144.10" y="541.60" width="6.00" height="6.00" stroke="#A6CEE3" stroke-width="0.75" fill="#fff" fill-opacity="0.45" stroke-opacity="0.72"/>
<path d="M117.10,571.40H126.30M121.70,566.80V576.00M118.40,568.10L125.00,574.70M118.40,574.70L125.00,568.10" stroke="#FF7F00" stroke-width="0.75" fill="#fff" fill-opacity="0.45" stroke-opacity="0.72"/>
<path d="M109.30,574.80L116.10,581.60M109.30,581.60L116.10,574.80" stroke="#FB9A99" stroke-width="0.75" fill="#fff" fill-opacity="0.45" stroke-opacity="0.72"/>
<path d="M105.40,580.50H114.60M110.00,575.90V585.10" stroke="#33A02C" stroke-width="0.75" fill="#fff" fill-opacity="0.45" stroke-opacity="0.72"/>
<path d="M107.40,589.30L111.50,582.20L103.30,582.20Z" stroke="#FDBF6F" stroke-width="0.75" fill="#fff" fill-opacity="0.45" stroke-opacity="0.72"/>
<path d="M85.50,598.80L90.00,603.30L85.50,607.80L81.00,603.30Z" stroke="#E31A1C" stroke-width="0.75" fill="#fff" fill-opacity="0.45" stroke-opacity="0.72"/>
<rect x="85.80" y="597.80" width="6.20" height="6.20" fill="#6A3D9A"/>
<path d="M63.60,618.10L67.70,625.20L59.50,625.20Z" stroke="#B2DF8A" stroke-width="0.75" fill="#fff" fill-opacity="0.45" stroke-opacity="0.72"/>
</g>
<rect x="57.0" y="495.5" width="145.70" height="132.50" fill="none" stroke="#c4c4c4" stroke-width="1.35"/>
<path d="M77.44,628.0v2.6" stroke="#333" stroke-width="0.8"/>
<text x="77.44" y="638.60" text-anchor="middle" class="t">0.025</text>
<path d="M117.39,628.0v2.6" stroke="#333" stroke-width="0.8"/>
<text x="117.39" y="638.60" text-anchor="middle" class="t">0.030</text>
<path d="M157.34,628.0v2.6" stroke="#333" stroke-width="0.8"/>
<text x="157.34" y="638.60" text-anchor="middle" class="t">0.035</text>
<path d="M197.29,628.0v2.6" stroke="#333" stroke-width="0.8"/>
<text x="197.29" y="638.60" text-anchor="middle" class="t">0.040</text>
<text x="38.70" y="612.10" text-anchor="end" class="t">0.025</text>
<text x="38.70" y="574.80" text-anchor="end" class="t">0.030</text>
<text x="38.70" y="537.50" text-anchor="end" class="t">0.035</text>
<text x="38.70" y="500.20" text-anchor="end" class="t">0.040</text>
<clipPath id="cpb22"><rect x="234.0" y="495.5" width="145.70" height="132.50"/></clipPath>
<rect x="234.0" y="495.5" width="145.70" height="132.50" fill="#fff"/>
<path d="M238.86,495.5V628.0M276.01,495.5V628.0M313.17,495.5V628.0M350.31,495.5V628.0M234.0,624.36H379.70M234.0,589.83H379.70M234.0,555.29H379.70M234.0,520.76H379.70" stroke="#f4f4f4" stroke-width="0.8" fill="none"/>
<path d="M257.44,495.5V628.0M294.59,495.5V628.0M331.74,495.5V628.0M368.89,495.5V628.0M234.0,607.09H379.70M234.0,572.56H379.70M234.0,538.03H379.70M234.0,503.50H379.70" stroke="#eeeeee" stroke-width="1" fill="none"/>
<g clip-path="url(#cpb22)"><path d="M-1199.56,1961.34L1714.44,-747.16" stroke="#787878" stroke-width="1.1"/>
<path d="M369.90,498.30L376.70,505.10M369.90,505.10L376.70,498.30" stroke="#FB9A99" stroke-width="0.75" fill="#fff" fill-opacity="0.45" stroke-opacity="0.72"/>
<path d="M352.80,514.90H362.00M357.40,510.30V519.50" stroke="#33A02C" stroke-width="0.75" fill="#fff" fill-opacity="0.45" stroke-opacity="0.72"/>
<rect x="349.30" y="517.40" width="6.00" height="6.00" stroke="#A6CEE3" stroke-width="0.75" fill="#fff" fill-opacity="0.45" stroke-opacity="0.72"/>
<path d="M328.40,539.90L332.90,544.40L328.40,548.90L323.90,544.40ZM323.90,544.40H332.90M328.40,539.90V548.90" stroke="#CAB2D6" stroke-width="0.75" fill="#fff" fill-opacity="0.45" stroke-opacity="0.72"/>
<path d="M317.10,550.50H326.30M321.70,545.90V555.10M318.40,547.20L325.00,553.80M318.40,553.80L325.00,547.20" stroke="#FF7F00" stroke-width="0.75" fill="#fff" fill-opacity="0.45" stroke-opacity="0.72"/>
<circle cx="304.90" cy="564.50" r="3.40" stroke="#1F78B4" stroke-width="0.75" fill="#fff" fill-opacity="0.45" stroke-opacity="0.72"/>
<path d="M299.30,574.30L303.40,567.20L295.20,567.20Z" stroke="#FDBF6F" stroke-width="0.75" fill="#fff" fill-opacity="0.45" stroke-opacity="0.72"/>
<path d="M290.00,573.90L294.50,578.40L290.00,582.90L285.50,578.40Z" stroke="#E31A1C" stroke-width="0.75" fill="#fff" fill-opacity="0.45" stroke-opacity="0.72"/>
<rect x="291.90" y="570.70" width="6.20" height="6.20" fill="#6A3D9A"/>
<path d="M240.20,618.10L244.30,625.20L236.10,625.20Z" stroke="#B2DF8A" stroke-width="0.75" fill="#fff" fill-opacity="0.45" stroke-opacity="0.72"/>
</g>
<rect x="234.0" y="495.5" width="145.70" height="132.50" fill="none" stroke="#c4c4c4" stroke-width="1.35"/>
<path d="M257.44,628.0v2.6" stroke="#333" stroke-width="0.8"/>
<text x="257.44" y="638.60" text-anchor="middle" class="t">0.007</text>
<path d="M294.59,628.0v2.6" stroke="#333" stroke-width="0.8"/>
<text x="294.59" y="638.60" text-anchor="middle" class="t">0.008</text>
<path d="M331.74,628.0v2.6" stroke="#333" stroke-width="0.8"/>
<text x="331.74" y="638.60" text-anchor="middle" class="t">0.009</text>
<path d="M368.89,628.0v2.6" stroke="#333" stroke-width="0.8"/>
<text x="368.89" y="638.60" text-anchor="middle" class="t">0.010</text>
<text x="230.40" y="609.79" text-anchor="end" class="t">0.007</text>
<text x="230.40" y="575.26" text-anchor="end" class="t">0.008</text>
<text x="230.40" y="540.73" text-anchor="end" class="t">0.009</text>
<text x="230.40" y="506.20" text-anchor="end" class="t">0.010</text>
<clipPath id="cpb23"><rect x="411.0" y="495.5" width="145.70" height="132.50"/></clipPath>
<rect x="411.0" y="495.5" width="145.70" height="132.50" fill="#fff"/>
<path d="M428.13,495.5V628.0M464.47,495.5V628.0M500.80,495.5V628.0M537.13,495.5V628.0M411.0,612.45H556.70M411.0,578.99H556.70M411.0,545.53H556.70M411.0,512.07H556.70" stroke="#f4f4f4" stroke-width="0.8" fill="none"/>
<path d="M446.30,495.5V628.0M482.63,495.5V628.0M518.97,495.5V628.0M555.30,495.5V628.0M411.0,595.72H556.70M411.0,562.26H556.70M411.0,528.80H556.70" stroke="#eeeeee" stroke-width="1" fill="none"/>
<g clip-path="url(#cpb23)"><path d="M-1010.70,1937.47L1903.30,-746.03" stroke="#787878" stroke-width="1.1"/>
<rect x="546.90" y="498.60" width="6.00" height="6.00" stroke="#A6CEE3" stroke-width="0.75" fill="#fff" fill-opacity="0.45" stroke-opacity="0.72"/>
<path d="M530.00,519.00L534.50,523.50L530.00,528.00L525.50,523.50ZM525.50,523.50H534.50M530.00,519.00V528.00" stroke="#CAB2D6" stroke-width="0.75" fill="#fff" fill-opacity="0.45" stroke-opacity="0.72"/>
<path d="M506.00,536.30H515.20M510.60,531.70V540.90" stroke="#33A02C" stroke-width="0.75" fill="#fff" fill-opacity="0.45" stroke-opacity="0.72"/>
<path d="M507.60,534.60L514.40,541.40M507.60,541.40L514.40,534.60" stroke="#FB9A99" stroke-width="0.75" fill="#fff" fill-opacity="0.45" stroke-opacity="0.72"/>
<path d="M502.80,544.70H512.00M507.40,540.10V549.30M504.10,541.40L510.70,548.00M504.10,548.00L510.70,541.40" stroke="#FF7F00" stroke-width="0.75" fill="#fff" fill-opacity="0.45" stroke-opacity="0.72"/>
<circle cx="501.30" cy="548.40" r="3.40" stroke="#1F78B4" stroke-width="0.75" fill="#fff" fill-opacity="0.45" stroke-opacity="0.72"/>
<path d="M474.30,578.20L478.40,571.10L470.20,571.10Z" stroke="#FDBF6F" stroke-width="0.75" fill="#fff" fill-opacity="0.45" stroke-opacity="0.72"/>
<path d="M453.80,586.90L458.30,591.40L453.80,595.90L449.30,591.40Z" stroke="#E31A1C" stroke-width="0.75" fill="#fff" fill-opacity="0.45" stroke-opacity="0.72"/>
<rect x="454.90" y="584.20" width="6.20" height="6.20" fill="#6A3D9A"/>
<path d="M417.20,618.40L421.30,625.50L413.10,625.50Z" stroke="#B2DF8A" stroke-width="0.75" fill="#fff" fill-opacity="0.45" stroke-opacity="0.72"/>
</g>
<rect x="411.0" y="495.5" width="145.70" height="132.50" fill="none" stroke="#c4c4c4" stroke-width="1.35"/>
<path d="M446.30,628.0v2.6" stroke="#333" stroke-width="0.8"/>
<text x="446.30" y="638.60" text-anchor="middle" class="t">0.016</text>
<path d="M482.63,628.0v2.6" stroke="#333" stroke-width="0.8"/>
<text x="482.63" y="638.60" text-anchor="middle" class="t">0.018</text>
<path d="M518.97,628.0v2.6" stroke="#333" stroke-width="0.8"/>
<text x="518.97" y="638.60" text-anchor="middle" class="t">0.020</text>
<path d="M555.30,628.0v2.6" stroke="#333" stroke-width="0.8"/>
<text x="555.30" y="638.60" text-anchor="middle" class="t">0.022</text>
<text x="407.40" y="598.42" text-anchor="end" class="t">0.016</text>
<text x="407.40" y="564.96" text-anchor="end" class="t">0.018</text>
<text x="407.40" y="531.50" text-anchor="end" class="t">0.020</text>
<rect x="57.0" y="330.9" width="145.7" height="14.60" fill="#d9d9d9" stroke="#8c8c8c" stroke-width="1"/>
<path d="M57.0,345.60H202.7" stroke="#6a6a6a" stroke-width="1"/>
<text x="129.85" y="340.90" text-anchor="middle" class="s">Death</text>
<rect x="234.0" y="330.9" width="145.7" height="14.60" fill="#d9d9d9" stroke="#8c8c8c" stroke-width="1"/>
<path d="M234.0,345.60H379.7" stroke="#6a6a6a" stroke-width="1"/>
<text x="306.85" y="340.90" text-anchor="middle" class="s">Hospitalization with pneumonia</text>
<rect x="411.0" y="330.9" width="145.7" height="14.60" fill="#d9d9d9" stroke="#8c8c8c" stroke-width="1"/>
<path d="M411.0,345.60H556.7" stroke="#6a6a6a" stroke-width="1"/>
<text x="483.85" y="340.90" text-anchor="middle" class="s">ICU or death with pneumonia</text>
<rect x="42.3" y="345.5" width="14.70" height="132.80" fill="#d9d9d9" stroke="#a6a6a6" stroke-width="1"/>
<path d="M57,345.5V478.3" stroke="#999" stroke-width="1.3"/>
<text transform="translate(53.2,411.90) rotate(-90)" text-anchor="middle" class="s">Effect sizes</text>
<rect x="42.3" y="495.5" width="14.70" height="132.50" fill="#d9d9d9" stroke="#a6a6a6" stroke-width="1"/>
<path d="M57,495.5V628.0" stroke="#999" stroke-width="1.3"/>
<text transform="translate(53.2,561.75) rotate(-90)" text-anchor="middle" class="s">Standard errors</text>
<text x="6.8" y="11.3" class="ti" style="font-size:13px;fill:#1b2a47;stroke:#1b2a47;stroke-width:0.45">a</text>
<text x="6.8" y="341.3" class="ti" style="font-size:13px;fill:#1b2a47;stroke:#1b2a47;stroke-width:0.45">b</text>
<text x="307.2" y="320.7" text-anchor="middle" class="ti">Pooled analysis</text>
<text transform="translate(8.1,171.3) rotate(-90)" text-anchor="middle" class="ti" style="font-size:9.8px">COLA-GLM algorithm</text>
<text x="307.2" y="650.7" text-anchor="middle" class="ti">Pooled analysis</text>
<text transform="translate(8.1,477.6) rotate(-90)" text-anchor="middle" class="ti" style="font-size:9.8px">COLA-GLM algorithm</text>
<rect x="568.70" y="266.40" width="6.00" height="6.00" stroke="#A6CEE3" stroke-width="0.75" fill="#fff" fill-opacity="0.45" stroke-opacity="0.72"/>
<text x="582.8" y="272.60" class="l">Intercept</text>
<circle cx="571.70" cy="282.57" r="3.40" stroke="#1F78B4" stroke-width="0.75" fill="#fff" fill-opacity="0.45" stroke-opacity="0.72"/>
<text x="582.8" y="285.77" class="l">Age&lt;60</text>
<path d="M571.70,291.24L575.80,298.34L567.60,298.34Z" stroke="#B2DF8A" stroke-width="0.75" fill="#fff" fill-opacity="0.45" stroke-opacity="0.72"/>
<text x="582.8" y="298.94" class="l">Gender (male)</text>
<path d="M567.10,308.91H576.30M571.70,304.31V313.51" stroke="#33A02C" stroke-width="0.75" fill="#fff" fill-opacity="0.45" stroke-opacity="0.72"/>
<text x="582.8" y="312.11" class="l">History of cancer</text>
<path d="M568.30,318.68L575.10,325.48M568.30,325.48L575.10,318.68" stroke="#FB9A99" stroke-width="0.75" fill="#fff" fill-opacity="0.45" stroke-opacity="0.72"/>
<text x="582.8" y="325.28" class="l">History of COPD</text>
<path d="M571.70,330.75L576.20,335.25L571.70,339.75L567.20,335.25Z" stroke="#E31A1C" stroke-width="0.75" fill="#fff" fill-opacity="0.45" stroke-opacity="0.72"/>
<text x="582.8" y="338.45" class="l">History of diabetes</text>
<path d="M571.70,352.92L575.80,345.82L567.60,345.82Z" stroke="#FDBF6F" stroke-width="0.75" fill="#fff" fill-opacity="0.45" stroke-opacity="0.72"/>
<text x="582.8" y="351.62" class="l">History of heart disease</text>
<path d="M567.10,361.59H576.30M571.70,356.99V366.19M568.40,358.29L575.00,364.89M568.40,364.89L575.00,358.29" stroke="#FF7F00" stroke-width="0.75" fill="#fff" fill-opacity="0.45" stroke-opacity="0.72"/>
<text x="582.8" y="364.79" class="l">History of hyperlipidemia</text>
<path d="M571.70,370.26L576.20,374.76L571.70,379.26L567.20,374.76ZM567.20,374.76H576.20M571.70,370.26V379.26" stroke="#CAB2D6" stroke-width="0.75" fill="#fff" fill-opacity="0.45" stroke-opacity="0.72"/>
<text x="582.8" y="377.96" class="l">History of hypertension</text>
<rect x="568.60" y="384.83" width="6.20" height="6.20" fill="#6A3D9A"/>
<text x="582.8" y="391.13" class="l">History of kidney disease</text>
</svg></body></html>
